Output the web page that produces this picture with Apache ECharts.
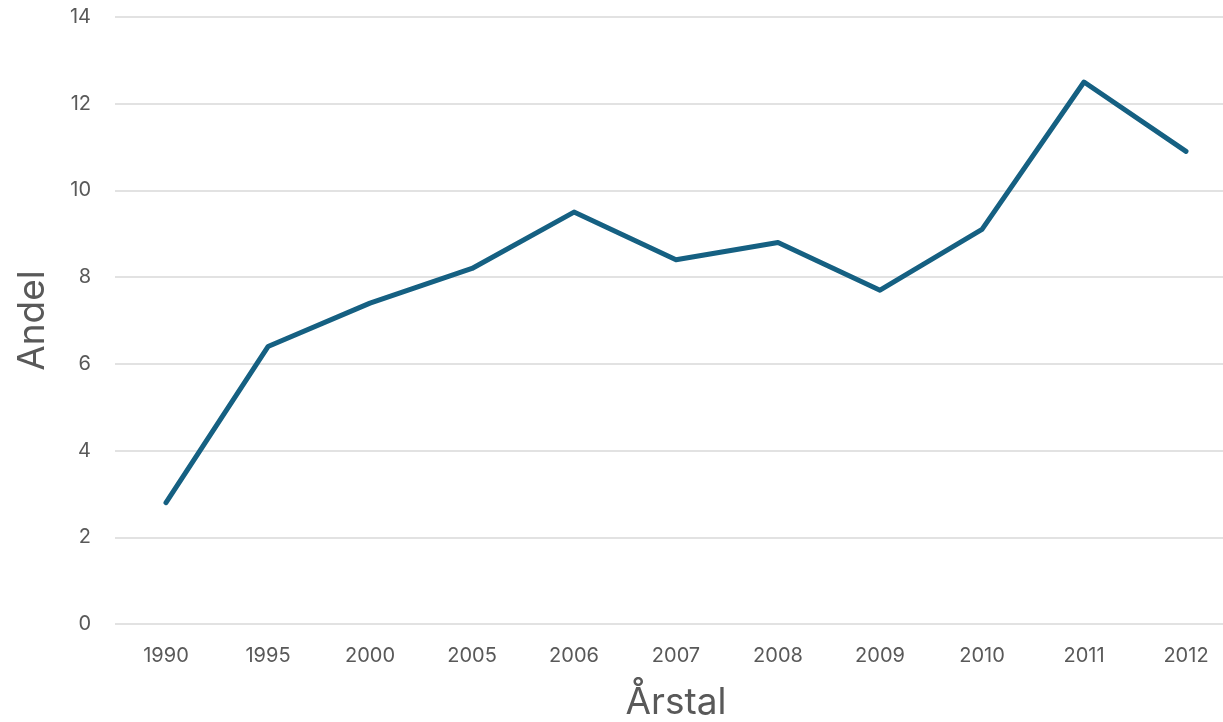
<!DOCTYPE html>
<html><head><meta charset="utf-8">
<script src="https://cdn.jsdelivr.net/npm/echarts@6/dist/echarts.min.js"></script>
<style>html,body{margin:0;padding:0;background:#fff;overflow:hidden}#c{width:1223px;height:722px}</style>
</head><body><div id="c"></div>
<script>
const categories = ['1990','1995','2000','2005','2006','2007','2008','2009','2010','2011','2012'];
const andel = [2.8, 6.4, 7.4, 8.2, 9.5, 8.4, 8.8, 7.7, 9.1, 12.5, 10.9];
const yTicks = {min: 0, max: 14, interval: 2};
const chart = echarts.init(document.getElementById('c'));
chart.setOption({
  animation: false,
  textStyle: {fontFamily: 'Inter'},
  grid: {left: 115, top: 17, width: 1122, height: 607, containLabel: false, outerBoundsMode: 'none'},
  xAxis: {
    type: 'category', data: categories, boundaryGap: true,
    name: 'Årstal', nameLocation: 'middle', nameGap: 60,
    nameTextStyle: {fontSize: 37, color: '#595959', fontFamily: 'Inter'},
    axisLine: {show: false}, axisTick: {show: false},
    axisLabel: {fontSize: 20, color: '#595959', margin: 22, fontFamily: 'Inter'}
  },
  yAxis: {
    type: 'value', min: yTicks.min, max: yTicks.max, interval: yTicks.interval,
    name: 'Andel', nameLocation: 'middle', nameGap: 64, nameRotate: 90,
    nameTextStyle: {fontSize: 37, color: '#595959', fontFamily: 'Inter'},
    axisLine: {show: false}, axisTick: {show: false},
    axisLabel: {fontSize: 20, color: '#595959', margin: 24, fontFamily: 'Inter'},
    splitLine: {lineStyle: {color: '#d9d9d9', width: 1.5}}
  },
  series: [{
    type: 'line', data: andel, showSymbol: false, symbol: 'none',
    lineStyle: {color: '#156082', width: 5, cap: 'round', join: 'round'},
    itemStyle: {color: '#156082'}
  }]
});
</script></body></html>
